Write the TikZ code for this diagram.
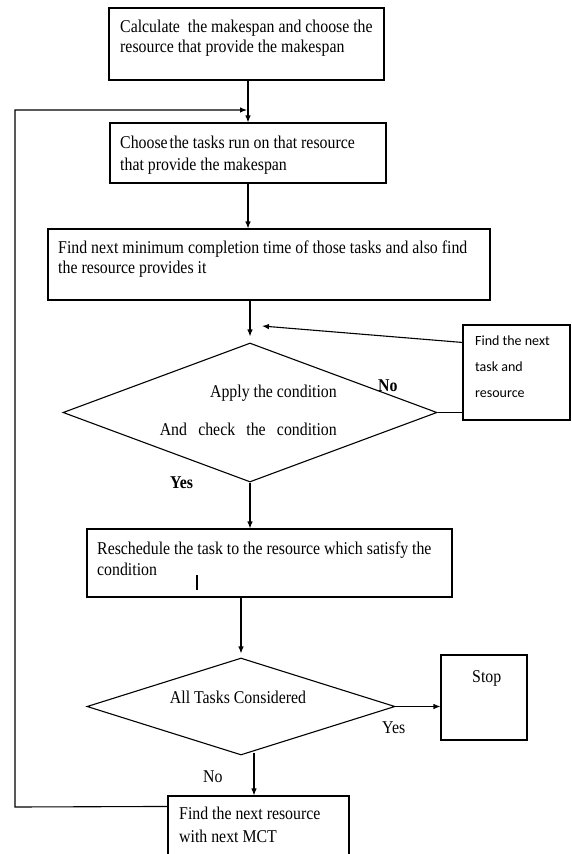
\documentclass[tikz,border=0pt]{standalone}
\usepackage{fontspec}
\setmainfont[FakeStretch=0.88]{Liberation Serif}
\newfontfamily\notefont{Carlito}
\usepackage{tikz}
\usetikzlibrary{positioning,arrows.meta,calc,shapes.geometric}

\begin{document}
\begin{tikzpicture}[
  x=1pt,
  y=-1pt,
  every node/.style={
    font=\fontsize{18}{22}\selectfont,
    inner sep=0pt
  },
  procbox/.style={
    draw,
    rectangle,
    line width=1.1pt
  },
  decision/.style={
    draw,
    diamond,
    line width=1.1pt
  },
  boxtext/.style={
    anchor=base west,
    align=left
  },
  flow/.style={
    -{Latex[length=7pt,width=5.5pt]},
    line width=1.1pt
  }
]

\useasboundingbox (0,0) rectangle (571,854);
\clip (0,0) rectangle (571,854);

\node[
  procbox,
  minimum width=275pt,
  minimum height=72pt
] (calc) at (246.5,44) {};

\node[
  boxtext,
  font=\fontsize{18}{20}\selectfont
] (calcT) at (120,52)
{Calculate\ \ the makespan and choose the\\resource that provide the makespan};

\node[
  procbox,
  minimum width=276pt,
  minimum height=60pt
] (tasks) at (248,153) {};

\node[boxtext] (tasksT) at (120,170)
{Choose\kern-2pt\ the tasks run on that resource\\that provide the makespan};

\node[
  procbox,
  minimum width=442pt,
  minimum height=71pt
] (mct) at (269,264.5) {};

\node[
  boxtext,
  font=\fontsize{18}{20}\selectfont
] (mctT) at (58,273)
{Find next minimum completion time of those tasks and also find\\the resource provides it};

\node[
  decision,
  minimum width=374pt,
  minimum height=139pt
] (cond) at (250,412.5) {};

\node[
  anchor=base east,
  align=right
] (condT) at (337,435)
{Apply the condition\\[16pt]\makebox[177pt][s]{And check the condition}};

\node[
  procbox,
  minimum width=107pt,
  minimum height=95pt
] (nexttask) at (516.5,372.5) {};

\node[
  boxtext,
  font=\notefont\fontsize{14}{26}\selectfont
] (nexttaskT) at (475,397)
{Find the next\\task and\\resource};

\node[
  procbox,
  minimum width=365pt,
  minimum height=68pt
] (resched) at (269.5,563) {};

\node[
  boxtext,
  font=\fontsize{18}{21}\selectfont
] (reschedT) at (97,575)
{Reschedule the task to the resource which satisfy the\\condition};

\node[
  decision,
  minimum width=308pt,
  minimum height=97pt
] (alltasks) at (241,706.5) {};

\node[anchor=base] (alltasksT) at (238,703)
{All Tasks Considered};

\node[
  procbox,
  minimum width=86pt,
  minimum height=85pt
] (stop) at (484,697.5) {};

\node[anchor=base west] (stopT) at (472,682) {Stop};

\node[
  procbox,
  minimum width=181pt,
  minimum height=84pt
] (nextres) at (258.5,838) {};

\node[
  boxtext,
  font=\fontsize{18}{23}\selectfont
] (nextresT) at (179,842)
{Find the next resource\\with next MCT};

\node[anchor=base west, font=\bfseries\fontsize{18}{22}\selectfont] (noA) at (378,391) {No};
\node[anchor=base west, font=\bfseries\fontsize{18}{22}\selectfont] (yesA) at (170,488) {Yes};
\node[anchor=base west] (yesB) at (382,733) {Yes};
\node[anchor=base west] (noB) at (203,782) {No};

\coordinate (merge) at (248,110);
\coordinate (loopT) at (15,110);
\coordinate (loopB) at (15,807);
\coordinate (retry) at (262,326);

\draw[flow] (calc.south -| tasks.north) -- (tasks.north);
\draw[flow] (tasks.south) -- (tasks.south |- mct.north);
\draw[flow, shorten >=6pt] (mct.south -| cond.north) -- (cond.north);
\draw[line width=1.1pt] (cond.east) -- (cond.east -| nexttask.west);
\draw[flow] ([yshift=-18pt]nexttask.north west) -- (retry);
\draw[flow] (cond.south) -- (cond.south |- resched.north);
\draw[flow, shorten >=4pt] (resched.south -| alltasks.north) -- (alltasks.north);
\draw[flow] (alltasks.east) -- (alltasks.east -| stop.west);
\draw[flow] ($([xshift=-4.5pt]nextres.north |- alltasks.south)+(0,-3)$) -- ([xshift=-4.5pt]nextres.north);
\draw[flow, shorten >=1pt] ([yshift=-11pt]nextres.north west) -- (loopB) -- (loopT) -- (merge);

\draw[line width=1.6pt] (197,575) -- (197,590);

\end{tikzpicture}
\end{document}
